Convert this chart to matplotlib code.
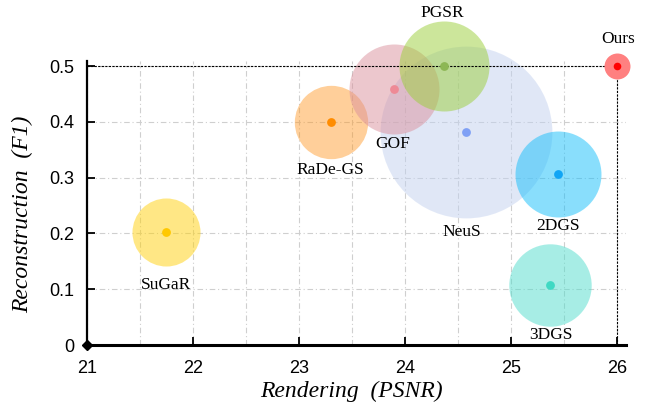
import matplotlib
matplotlib.use("Agg")
import matplotlib.pyplot as plt
import numpy as np

# ---- data ----
methods = ["SuGaR", "RaDe-GS", "GOF", "PGSR", "NeuS", "2DGS", "3DGS", "Ours"]
psnr = [21.75, 23.30, 23.90, 24.37, 24.58, 25.44, 25.37, 26.00]
f1 = [0.203, 0.40, 0.458, 0.50, 0.381, 0.307, 0.107, 0.50]
bubble_area = [2400, 2790, 4200, 4200, 15300, 3830, 3520, 350]

x_ticks = [21, 22, 23, 24, 25, 26]
y_ticks = [0, 0.1, 0.2, 0.3, 0.4, 0.5]
y_tick_labels = ["0", "0.1", "0.2", "0.3", "0.4", "0.5"]

# ---- styles ----
bubble_colors = ["#FFD10D", "#FF9620", "#DB919D", "#9BCF39", "#C3D1EF",
                 "#15BFFB", "#51DDCD", "#FF8080"]
bubble_alpha = [0.5, 0.45, 0.5, 0.5, 0.5, 0.5, 0.5, 1.0]
bubble_z = [2, 2, 2.1, 2.2, 1.9, 2, 2, 4]
dot_colors = ["#FFC800", "#FF8C00", "#EE8A96", "#8DB755", "#7FA0F5",
              "#10A5F5", "#3FD9C3", "#FF0000"]
# label offsets in points (dx, dy) relative to each point
label_offsets = [(0, -38), (0, -34.5), (-1.5, -39), (-1.5, 38), (-3, -72),
                 (0.5, -37.5), (0.5, -36), (1, 19.5)]

plt.rcParams["font.family"] = "Liberation Sans"

fig = plt.figure(figsize=(6.47, 4.08), dpi=100)
ax = fig.add_axes([87 / 647, 1 - 345 / 408, (626 - 87) / 647, (345 - 61) / 408])
ax.set_xlim(21, 26.085)
ax.set_ylim(0, 0.509)

# grid
ax.set_axisbelow(True)
ax.set_xticks(np.arange(21.5, 26.0, 0.5), minor=True)
grid_kw = dict(color="#CFCFCF", linewidth=0.8, linestyle=(0, (5, 2.5, 1, 2.5)))
ax.grid(True, which="both", axis="x", **grid_kw)
ax.grid(True, which="major", axis="y", **grid_kw)

# bubbles
for i in range(len(methods)):
    ax.scatter(psnr[i], f1[i], s=bubble_area[i], color=bubble_colors[i],
               alpha=bubble_alpha[i], linewidths=0, zorder=bubble_z[i],
               clip_on=False)

# reference lines to "Ours"
oi = methods.index("Ours")
ax.plot([21, psnr[oi]], [f1[oi], f1[oi]], color="black", linewidth=0.8,
        linestyle=(0, (2, 1.2)), zorder=3)
ax.plot([psnr[oi], psnr[oi]], [0, f1[oi]], color="black", linewidth=0.8,
        linestyle=(0, (2, 1.2)), zorder=3)

# center dots
for i in range(len(methods)):
    ax.scatter(psnr[i], f1[i], s=40 if methods[i] != "Ours" else 30,
               color=dot_colors[i], linewidths=0, zorder=5, clip_on=False)

# labels
for i, m in enumerate(methods):
    ax.annotate(m, (psnr[i], f1[i]), xytext=label_offsets[i],
                textcoords="offset points", ha="center", va="center",
                fontsize=12.5, family="Liberation Serif", zorder=6,
                annotation_clip=False)

# origin diamond
ax.plot([21], [0], marker="D", markersize=5.5, color="black",
        clip_on=False, zorder=7)

# spines
for s in ["top", "right"]:
    ax.spines[s].set_visible(False)
ax.spines["left"].set_linewidth(1.6)
ax.spines["bottom"].set_linewidth(2.2)

ax.set_xticks(x_ticks)
ax.set_xticklabels([str(t) for t in x_ticks])
ax.set_yticks(y_ticks)
ax.set_yticklabels(y_tick_labels)
ax.tick_params(axis="both", which="major", direction="in", length=5.5,
               width=1.3, labelsize=13)
ax.tick_params(axis="x", which="major", pad=11)
ax.tick_params(axis="y", which="major", pad=9)
ax.tick_params(axis="x", which="minor", length=0)

ax.set_xlabel("Rendering  (PSNR)", fontsize=17, style="italic",
              family="Liberation Serif")
ax.set_ylabel("Reconstruction  (F1)", fontsize=17, style="italic",
              family="Liberation Serif")
ax.xaxis.set_label_coords(0.49, -0.125)
ax.yaxis.set_label_coords(-0.1, 0.46)

fig.savefig("out.png", dpi=100)
